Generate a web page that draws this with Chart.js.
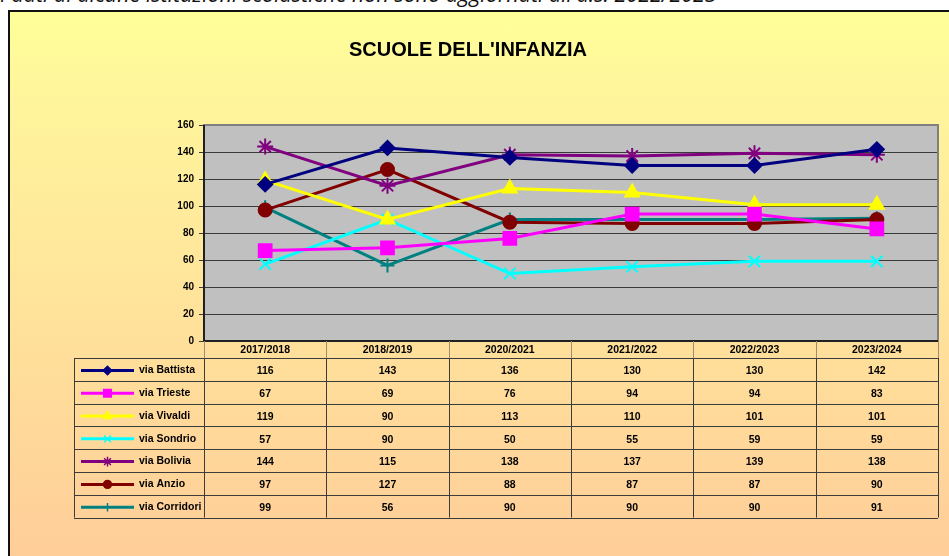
<!DOCTYPE html>
<html>
<head>
<meta charset="utf-8">
<script src="https://cdn.jsdelivr.net/npm/chart.js@4"></script>
<style>
    html, body { margin: 0; padding: 0; background: #fff; overflow: hidden; width: 949px; height: 556px; }
    #nota {
        position: absolute; left: 0; top: -17px; white-space: nowrap;
        font: italic 21.5px/21.5px "Open Sans", sans-serif; color: #111;
    }
    #cornice {
        position: absolute; left: 8px; top: 10px; width: 960px; height: 560px;
        border: 2px solid #111;
        background: linear-gradient(to bottom, #FFFF99 0%, #FFF59C 15%, #FFCC99 100%);
    }
    #grafico { position: absolute; left: 0; top: 0; }
</style>
</head>
<body>
<div id="nota">I dati di alcune istituzioni scolastiche non sono aggiornati all'a.s. 2022/2023</div>
<div id="cornice">
    <canvas id="grafico" width="939" height="546"></canvas>
</div>
<script>
// ==========================================
// Scuole dell'infanzia - iscritti per plesso
// ==========================================

const anni = ["2017/2018", "2018/2019", "2020/2021", "2021/2022", "2022/2023", "2023/2024"];

const viaBattista = [116, 143, 136, 130, 130, 142];
const viaTrieste = [67, 69, 76, 94, 94, 83];
const viaVivaldi = [119, 90, 113, 110, 101, 101];
const viaSondrio = [57, 90, 50, 55, 59, 59];
const viaBolivia = [144, 115, 138, 137, 139, 138];
const viaAnzio = [97, 127, 88, 87, 87, 90];
const viaCorridori = [99, 56, 90, 90, 90, 91];

const tickY = [0, 20, 40, 60, 80, 100, 120, 140, 160];

const serie = [
    { label: "via Battista", data: viaBattista, colore: "#000080", stile: "rectRot", r: 7 },
    { label: "via Trieste", data: viaTrieste, colore: "#FF00FF", stile: "rect", r: 9 },
    { label: "via Vivaldi", data: viaVivaldi, colore: "#FFFF00", stile: "triangle", r: 8 },
    { label: "via Sondrio", data: viaSondrio, colore: "#00FFFF", stile: "crossRot", r: 8 },
    { label: "via Bolivia", data: viaBolivia, colore: "#800080", stile: "star", r: 8 },
    { label: "via Anzio", data: viaAnzio, colore: "#800000", stile: "circle", r: 6.5 },
    { label: "via Corridori", data: viaCorridori, colore: "#008080", stile: "cross", r: 7 }
];

const fontTab = "bold 10.5px 'Liberation Sans', Arial, sans-serif";

// Sfondo grigio dell'area del grafico + titolo
const sfondoPlot = {
    id: "sfondoPlot",
    beforeDraw(chart) {
        const { ctx, chartArea: a } = chart;
        ctx.save();
        ctx.fillStyle = "#C0C0C0";
        ctx.fillRect(a.left, a.top, a.right - a.left, a.bottom - a.top);
        ctx.fillStyle = "#000";
        ctx.font = "bold 20px 'Liberation Sans', Arial, sans-serif";
        ctx.textAlign = "center";
        ctx.textBaseline = "alphabetic";
        ctx.fillText("SCUOLE DELL'INFANZIA", 458, 44);
        ctx.restore();
    },
    beforeDatasetsDraw(chart) {
        const { ctx, chartArea: a } = chart;
        ctx.save();
        ctx.strokeStyle = "#808080";
        ctx.lineWidth = 2;
        ctx.strokeRect(a.left, a.top, a.right - a.left, a.bottom - a.top);
        ctx.strokeStyle = "#000";
        ctx.lineWidth = 1.5;
        ctx.beginPath();
        ctx.moveTo(a.left, a.top);
        ctx.lineTo(a.left, a.bottom);
        ctx.lineTo(a.right, a.bottom);
        ctx.stroke();
        ctx.restore();
    }
};

// Tabella dati sotto il grafico (colonne dalla scala x)
const tabellaDati = {
    id: "tabellaDati",
    afterDraw(chart) {
        const { ctx, chartArea: a, scales: { x } } = chart;
        const meta = chart.data.datasets;
        const mezzo = (x.getPixelForValue(1) - x.getPixelForValue(0)) / 2;
        const bordi = anni.map((_, i) => x.getPixelForValue(i) - mezzo);
        bordi.push(x.getPixelForValue(anni.length - 1) + mezzo);

        const testaTop = a.bottom;
        const testaBot = a.bottom + 17;
        const rigaH = 22.8;
        const sinistra = 64;
        const fondo = testaBot + rigaH * meta.length;

        ctx.save();
        ctx.font = fontTab;
        ctx.fillStyle = "#000";
        ctx.textBaseline = "middle";
        ctx.textAlign = "center";

        // intestazione
        anni.forEach((anno, i) => {
            ctx.fillText(anno, (bordi[i] + bordi[i + 1]) / 2, (testaTop + testaBot) / 2 + 1);
        });
        ctx.strokeStyle = "#A08C6E";
        ctx.lineWidth = 1;
        ctx.beginPath();
        bordi.forEach(b => { ctx.moveTo(Math.round(b) + 0.5, testaTop); ctx.lineTo(Math.round(b) + 0.5, testaBot); });
        ctx.stroke();

        // griglia
        ctx.strokeStyle = "#3C3C3C";
        ctx.beginPath();
        for (let r = 0; r <= meta.length; r++) {
            const y = Math.round(testaBot + r * rigaH) + 0.5;
            ctx.moveTo(sinistra, y);
            ctx.lineTo(bordi[bordi.length - 1], y);
        }
        [sinistra].concat(bordi).forEach(b => {
            ctx.moveTo(Math.round(b) + 0.5, testaBot);
            ctx.lineTo(Math.round(b) + 0.5, fondo);
        });
        ctx.stroke();

        // righe: legenda + valori
        meta.forEach((ds, r) => {
            const yc = testaBot + r * rigaH + rigaH / 2 + 1;
            ctx.strokeStyle = ds.borderColor;
            ctx.lineWidth = 3;
            ctx.beginPath();
            ctx.moveTo(sinistra + 7, yc);
            ctx.lineTo(sinistra + 60, yc);
            ctx.stroke();
            ctx.fillStyle = ds.backgroundColor;
            ctx.lineWidth = 1.5;
            Chart.helpers.drawPoint(ctx, {
                pointStyle: ds.pointStyle, radius: ds.pointRadius * 0.6,
                borderWidth: 1.5, rotation: 0
            }, sinistra + 33.5, yc);

            ctx.fillStyle = "#000";
            ctx.textAlign = "left";
            ctx.fillText(ds.label, sinistra + 65, yc);
            ctx.textAlign = "center";
            ds.data.forEach((v, i) => {
                ctx.fillText(String(v), (bordi[i] + bordi[i + 1]) / 2, yc + 1);
            });
        });
        ctx.restore();
    }
};

new Chart(document.getElementById("grafico"), {
    type: "line",
    data: {
        labels: anni,
        datasets: serie.map(s => ({
            label: s.label,
            data: s.data,
            borderColor: s.colore,
            backgroundColor: s.colore,
            pointBackgroundColor: s.colore,
            pointBorderColor: s.colore,
            pointStyle: s.stile,
            pointRadius: s.r,
            pointBorderWidth: 2,
            borderWidth: 3,
            tension: 0
        }))
    },
    options: {
        responsive: false,
        animation: false,
        devicePixelRatio: 1,
        layout: { padding: { top: 113, right: 10, bottom: 217, left: 0 } },
        plugins: { legend: { display: false }, tooltip: { enabled: false }, title: { display: false } },
        scales: {
            x: { display: false, offset: true },
            y: {
                min: 0, max: 160,
                afterFit: s => { s.width = 194; },
                afterBuildTicks: s => { s.ticks = tickY.map(v => ({ value: v })); },
                ticks: {
                    color: "#000", padding: 5,
                    font: { family: "'Liberation Sans', Arial, sans-serif", weight: "bold", size: 10 }
                },
                grid: { color: "#3A3A3A", lineWidth: 1, tickLength: 5 },
                border: { display: false }
            }
        }
    },
    plugins: [sfondoPlot, tabellaDati]
});
</script>
</body>
</html>
